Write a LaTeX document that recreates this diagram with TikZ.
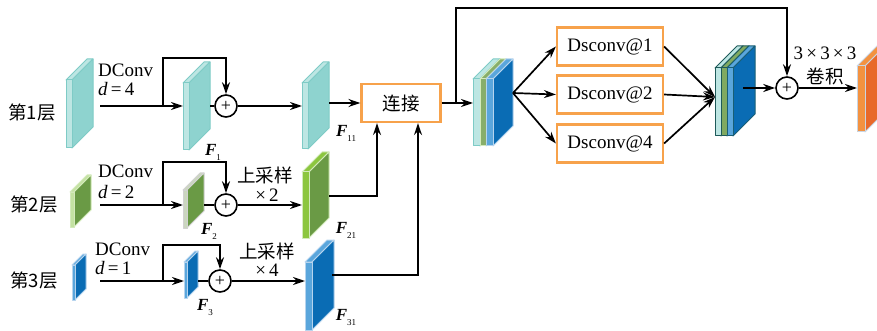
\documentclass[tikz,border=0pt]{standalone}
\usepackage{fontspec}
\setmainfont{Liberation Serif}
\newfontfamily\cjk{Noto Sans CJK SC}
\usetikzlibrary{arrows.meta}
\definecolor{tealS}{HTML}{8ED3CF}
\definecolor{tealF}{HTML}{BDE6E3}
\definecolor{tealE}{HTML}{7ECBC6}
\definecolor{grnS}{HTML}{6A9A45}
\definecolor{grnF}{HTML}{C4E2A2}
\definecolor{grnE}{HTML}{D3EABB}
\definecolor{grnB}{HTML}{8CC63F}
\definecolor{bluS}{HTML}{0A6CB4}
\definecolor{bluF}{HTML}{5AA6DC}
\definecolor{bluE}{HTML}{B6D4EE}
\definecolor{orgS}{HTML}{E8692A}
\definecolor{orgF}{HTML}{F39240}
\definecolor{orgE}{HTML}{C9D5E3}
\definecolor{boxE}{HTML}{F7A24B}
\definecolor{darkE}{HTML}{1F5A5A}
\newcommand\drawslab[8]{%
  \filldraw[draw=#8,fill=#6,line width=1pt,line join=round] (#1,#2) -- ++(#3,0) -- ++(#5,-#5) -- ++(-#3,0) -- cycle;
  \filldraw[draw=#8,fill=#7,line width=1pt,line join=round] ({#1+#3},#2) -- ++(#5,-#5) -- ++(0,#4) -- ++(-#5,#5) -- cycle;
  \filldraw[draw=#8,fill=#6,line width=1pt,line join=round] (#1,#2) rectangle ++(#3,#4);
}
\begin{document}
\begin{tikzpicture}[x=1pt,y=-1pt,
  lbl/.style={inner sep=0pt,font=\fontsize{19}{22}\selectfont},
  cn/.style={inner sep=0pt,font=\cjk\fontsize{18.5}{22}\selectfont},
  flab/.style={inner sep=0pt,font=\fontsize{17}{19}\selectfont},
  arr/.style={line width=1.7pt,-{Stealth[length=12pt,width=8pt]}},
  ln/.style={line width=1.7pt},
  summ/.style={circle,draw,line width=1.6pt,minimum size=22pt,inner sep=0pt,fill=white,font=\fontsize{18}{18}\selectfont},
  obox/.style={draw=boxE,line width=2.2pt,fill=white,minimum width=79pt,minimum height=38pt,inner sep=0pt},
  dbox/.style={draw=boxE,line width=2.2pt,fill=white,minimum width=106pt,minimum height=38pt,inner sep=0pt,font=\fontsize{19}{22}\selectfont}]
\useasboundingbox (0,0) rectangle (877,331);

% ---------- slabs ----------
\drawslab{66}{80}{6}{68}{21}{tealF}{tealS}{tealE}
\drawslab{183}{83}{6}{67}{21}{tealF}{tealS}{tealE}
\drawslab{302}{83}{6}{66}{21}{tealF}{tealS}{tealE}

\drawslab{70}{192}{4}{35}{17}{grnF}{grnS}{grnE}
\drawslab{183}{190}{4}{38}{17}{grnF!60!gray!60}{grnS}{gray!35}
\drawslab{302}{172}{7}{66}{20}{grnB}{grnS}{grnE}

\drawslab{72}{265}{3}{35}{11}{bluF}{bluS}{bluE}
\drawslab{184}{262}{3}{36}{11}{bluF}{bluS}{bluE}
\drawslab{305}{262}{7}{68}{22}{bluF}{bluS}{bluE}

% concatenated stack
\drawslab{473}{79}{7}{67}{20}{tealF}{tealS}{tealE}
\drawslab{480}{79}{6}{67}{20}{grnS!80!white}{grnS}{grnE}
\drawslab{486}{79}{7}{67}{20}{bluF}{bluS}{bluE}

% second stack
\drawslab{715}{68}{6}{68}{22}{tealF}{tealS}{darkE}
\drawslab{721}{68}{6}{68}{22}{grnS!85!white}{grnS}{darkE}
\drawslab{727}{68}{6}{68}{22}{bluF}{bluS}{darkE!70!bluS}

% output
\drawslab{857}{66}{8}{66}{22}{orgF}{orgS}{orgE}

% ---------- texts ----------
\node[cn] (t1) at (32,113) {第1层};
\node[cn] (t2) at (34,205) {第2层};
\node[cn] (t3) at (34,281) {第3层};

\node[lbl,anchor=west] (dc1) at (98,70) {DConv};
\node[lbl,anchor=west] (dd1) at (98,89) {\textit{d}\,=\,4};
\node[lbl,anchor=west] (dc2) at (98,171) {DConv};
\node[lbl,anchor=west] (dd2) at (98,192) {\textit{d}\,=\,2};
\node[lbl,anchor=west] (dc3) at (95,249) {DConv};
\node[lbl,anchor=west] (dd3) at (95,268) {\textit{d}\,=\,1};

\node[cn] (up2) at (265,175) {上采样};
\node[lbl] (x2) at (267,195) {×\,2};
\node[cn] (up3) at (267,251) {上采样};
\node[lbl] (x4) at (267,270) {×\,4};

\node[flab] (lf1) at (213,152) {\textbf{\textit{F}}\raisebox{-5pt}{\fontsize{9}{9}\selectfont 1}};
\node[flab] (lf11) at (346,133) {\textbf{\textit{F}}\raisebox{-5pt}{\fontsize{9}{9}\selectfont 11}};
\node[flab] (lf2) at (209,231) {\textbf{\textit{F}}\raisebox{-5pt}{\fontsize{9}{9}\selectfont 2}};
\node[flab] (lf21) at (346,230) {\textbf{\textit{F}}\raisebox{-5pt}{\fontsize{9}{9}\selectfont 21}};
\node[flab] (lf3) at (205,307) {\textbf{\textit{F}}\raisebox{-5pt}{\fontsize{9}{9}\selectfont 3}};
\node[flab] (lf31) at (346,317) {\textbf{\textit{F}}\raisebox{-5pt}{\fontsize{9}{9}\selectfont 31}};

\node[lbl] (k3) at (825,53) {3\,×\,3\,×\,3};
\node[cn] (jj) at (825,76) {卷积};

% ---------- boxes and sums ----------
\node[obox,font=\cjk\fontsize{18.5}{22}\selectfont] (box) at (401,103) {连接};
\node[dbox] (ds1) at (610,46.5) {Dsconv@1};
\node[dbox] (ds2) at (610,94.5) {Dsconv@2};
\node[dbox] (ds4) at (610,143.5) {Dsconv@4};

\node[summ] (c1) at (226,106) {+};
\node[summ] (c2) at (226,205) {+};
\node[summ] (c3) at (220,281) {+};
\node[summ] (c4) at (787,88) {+};

% ---------- layer 1 ----------
\coordinate (a1) at (100,106);
\coordinate (f1w) at (183,106);
\coordinate (k1) at (163,106);
\coordinate (u1) at (163,58);
\coordinate (v1) at (226,58);
\coordinate (f1e) at (210,106);
\coordinate (f11w) at (302,106);
\coordinate (f11e) at (329,103);
\draw[arr] (a1) -- (f1w);
\draw[arr] (k1) -- (u1) -- (v1) -- (c1.north);
\draw[ln] (f1e) -- (c1.west);
\draw[arr] (c1.east) -- (f11w);
\draw[arr] (f11e) -- (box.west);

% ---------- layer 2 ----------
\coordinate (a2) at (100,205);
\coordinate (f2w) at (183,205);
\coordinate (k2) at (163,205);
\coordinate (u2) at (163,162);
\coordinate (v2) at (226,162);
\coordinate (f2e) at (204,205);
\coordinate (f21w) at (302,205);
\coordinate (f21e) at (329,196);
\coordinate (m2) at (377,196);
\draw[arr] (a2) -- (f2w);
\draw[arr] (k2) -- (u2) -- (v2) -- (c2.north);
\draw[ln] (f2e) -- (c2.west);
\draw[arr] (c2.east) -- (f21w);
\draw[arr] (f21e) -- (m2) -- (m2 |- box.south);

% ---------- layer 3 ----------
\coordinate (a3) at (100,281);
\coordinate (f3w) at (184,281);
\coordinate (k3b) at (163,281);
\coordinate (u3) at (163,245);
\coordinate (v3) at (220,245);
\coordinate (f3e) at (198,281);
\coordinate (f31w) at (305,281);
\coordinate (f31e) at (332,275);
\coordinate (m3) at (418,275);
\draw[arr] (a3) -- (f3w);
\draw[arr] (k3b) -- (u3) -- (v3) -- (c3.north);
\draw[ln] (f3e) -- (c3.west);
\draw[arr] (c3.east) -- (f31w);
\draw[arr] (f31e) -- (m3) -- (m3 |- box.south);

% ---------- right part ----------
\coordinate (s1w) at (473,103);
\coordinate (kb) at (456,103);
\coordinate (ub) at (456,8);
\coordinate (vb) at (787,8);
\coordinate (fan) at (513,93);
\coordinate (s2w) at (715,97);
\coordinate (s2o) at (743,88);
\coordinate (ow) at (857,88);
\draw[arr] (box.east) -- (s1w);
\draw[arr] (kb) -- (ub) -- (vb) -- (c4.north);
\draw[arr] (fan) -- (ds1.west);
\draw[arr] (fan) -- (ds2.west);
\draw[arr] (fan) -- (ds4.west);
\draw[arr] (ds1.east) -- (s2w);
\draw[arr] (ds2.east) -- (s2w);
\draw[arr] (ds4.east) -- (s2w);
\draw[arr] (s2o) -- (c4.west);
\draw[arr] (c4.east) -- (ow);
\end{tikzpicture}
\end{document}
